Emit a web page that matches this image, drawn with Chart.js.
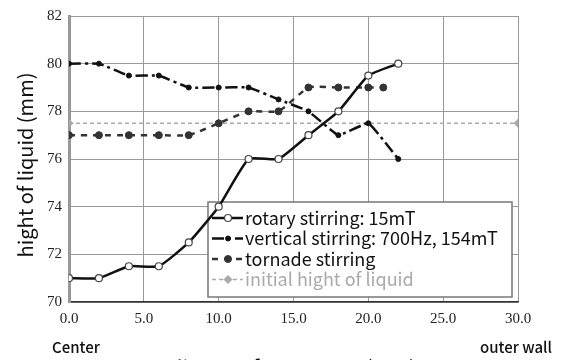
<!DOCTYPE html>
<html>
<head>
<meta charset="utf-8">
<script src="https://cdn.jsdelivr.net/npm/chart.js@4.4.1/dist/chart.umd.min.js"></script>
<style>
  html, body { margin: 0; padding: 0; background: #fff; }
  #wrap { width: 562px; height: 360px; position: relative; }
</style>
</head>
<body>
<div id="wrap"><canvas id="chart" width="562" height="360"></canvas></div>
<script>
// data
const distance = [0, 2, 4, 6, 8, 10, 12, 14, 16, 18, 20, 22];
const rotary = [71, 71, 71.5, 71.5, 72.5, 74, 76, 76, 77, 78, 79.5, 80];
const vertical = [80, 80, 79.5, 79.5, 79, 79, 79, 78.5, 78, 77, 77.5, 76];
const tornadeX = [0, 2, 4, 6, 8, 10, 12, 14, 16, 18, 20, 21];
const tornade = [77, 77, 77, 77, 77, 77.5, 78, 78, 79, 79, 79, 79];
const initialX = [0, 30];
const initial = [77.5, 77.5];
const seriesLabels = [
  "rotary stirring: 15mT",
  "vertical stirring: 700Hz, 154mT",
  "tornade stirring",
  "initial hight of liquid",
];
const xTitle = "distance from center (mm)";
const yTitle = "hight of liquid (mm)";

const pts = (xs, ys) => xs.map((x, i) => ({ x, y: ys[i] }));
const SANS = "'Noto Sans CJK JP', 'Noto Sans', sans-serif";
const SERIF = "Times New Roman, Liberation Serif, serif";

// legend drawn inside the plot, below the lines (like the original)
const boxLegend = {
  id: "boxLegend",
  beforeDatasetsDraw(chart) {
    const { ctx } = chart;
    const x0 = 208, y0 = 202, w = 304, h = 95;
    ctx.save();
    ctx.fillStyle = "#fff";
    ctx.fillRect(x0, y0, w, h);
    ctx.strokeStyle = "#777";
    ctx.lineWidth = 1.5;
    ctx.strokeRect(x0, y0, w, h);
    ctx.font = "18px " + SANS;
    ctx.textBaseline = "middle";
    chart.data.datasets.forEach((ds, i) => {
      const y = 218 + i * 20.5;
      ctx.strokeStyle = ds.borderColor;
      ctx.lineWidth = ds.borderWidth;
      ctx.setLineDash(ds.borderDash || []);
      ctx.beginPath();
      ctx.moveTo(212, y);
      ctx.lineTo(243, y);
      ctx.stroke();
      ctx.setLineDash([]);
      ctx.fillStyle = ds.pointBackgroundColor;
      ctx.strokeStyle = ds.pointBorderColor;
      ctx.lineWidth = ds.pointBorderWidth || 1;
      Chart.helpers.drawPoint(ctx, { pointStyle: ds.pointStyle, radius: ds.pointRadius, borderWidth: 1 }, 228, y);
      ctx.fillStyle = ds.legendText;
      ctx.fillText(ds.label, 245, y);
    });
    ctx.restore();
  },
  afterDraw(chart) {
    const { ctx } = chart;
    ctx.save();
    ctx.fillStyle = "#111";
    ctx.textBaseline = "middle";
    ctx.textAlign = "center";
    ctx.font = "500 15px " + SANS;
    ctx.fillText("Center", 76, 347);
    ctx.fillText("outer wall", 516, 347);
    ctx.font = "20px " + SANS;
    ctx.fillText(xTitle, 293, 367);
    // y title, centred a little lower than the plot middle as in the original
    ctx.translate(25, 165);
    ctx.rotate(-Math.PI / 2);
    ctx.fillText(yTitle, 0, 0);
    ctx.restore();
  },
};

new Chart(document.getElementById("chart"), {
  type: "line",
  data: {
    datasets: [
      {
        label: seriesLabels[0], data: pts(distance, rotary),
        borderColor: "#111", borderWidth: 2.5, tension: 0.15,
        pointStyle: "circle", pointRadius: 3.5, pointBorderWidth: 1.2,
        pointBackgroundColor: "#fff", pointBorderColor: "#444", legendText: "#111",
      },
      {
        label: seriesLabels[1], data: pts(distance, vertical),
        borderColor: "#111", borderWidth: 2.5, borderDash: [12, 4, 3, 4], tension: 0.1,
        pointStyle: "circle", pointRadius: 2.5, pointBorderWidth: 1,
        pointBackgroundColor: "#111", pointBorderColor: "#111", legendText: "#111",
      },
      {
        label: seriesLabels[2], data: pts(tornadeX, tornade),
        borderColor: "#333", borderWidth: 2.5, borderDash: [6, 6], tension: 0.15,
        pointStyle: "circle", pointRadius: 3.5, pointBorderWidth: 1,
        pointBackgroundColor: "#333", pointBorderColor: "#333", legendText: "#111",
      },
      {
        label: seriesLabels[3], data: pts(initialX, initial),
        borderColor: "#aaa", borderWidth: 1.5, borderDash: [4, 3], tension: 0,
        pointStyle: "rectRot", pointRadius: 4, pointBorderWidth: 1,
        pointBackgroundColor: "#aaa", pointBorderColor: "#aaa", legendText: "#aaa",
      },
    ],
  },
  options: {
    responsive: false,
    animation: false,
    layout: { padding: { top: 13, right: 44, left: 0, bottom: 0 } },
    plugins: { legend: { display: false }, tooltip: { enabled: false } },
    scales: {
      x: {
        type: "linear", min: 0, max: 30,
        afterFit: (a) => { a.height = 58; },
        ticks: { stepSize: 5, padding: 8, color: "#222", font: { family: SERIF, size: 15 },
          callback: (v) => v.toFixed(1) },
        grid: { color: "#999", lineWidth: 1, drawTicks: false },
        border: { color: "#333", width: 1.5 },
      },
      y: {
        min: 70, max: 82,
        afterFit: (a) => { a.width = 69; },
        ticks: { stepSize: 2, padding: 7, color: "#222", font: { family: SERIF, size: 15 } },
        grid: { color: "#999", lineWidth: 1, drawTicks: false },
        border: { color: "#999", width: 3 },
      },
    },
  },
  plugins: [boxLegend],
});
</script>
</body>
</html>
